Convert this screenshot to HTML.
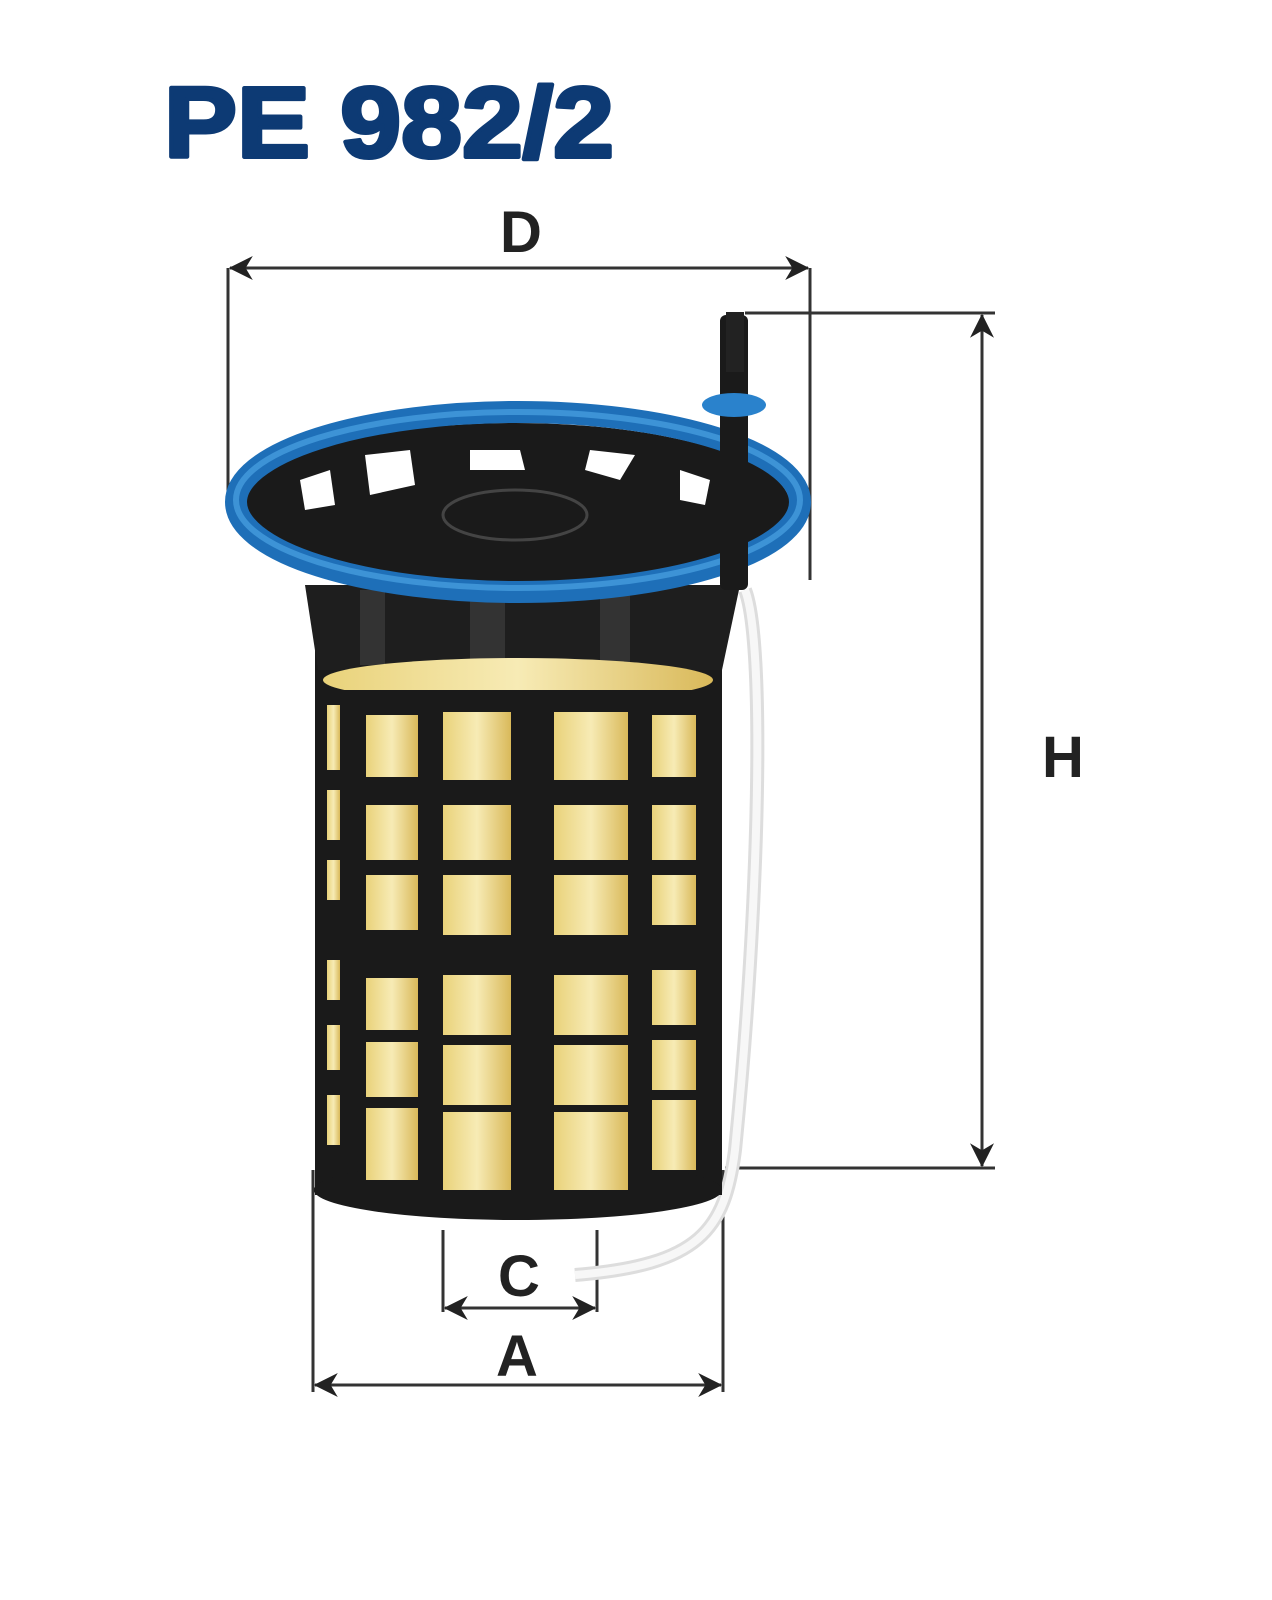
<!DOCTYPE html>
<html><head><meta charset="utf-8"><style>
body{margin:0;background:#fff;width:1272px;height:1600px;overflow:hidden}
svg{display:block}
text{font-family:"Liberation Sans",Arial,sans-serif;font-weight:bold}
</style></head><body>
<svg width="1272" height="1600" viewBox="0 0 1272 1600" xmlns="http://www.w3.org/2000/svg">
<defs>
<marker id="ar" viewBox="0 0 20 20" refX="19" refY="10" markerWidth="24" markerHeight="24" markerUnits="userSpaceOnUse" orient="auto-start-reverse"><path d="M0,0 L20,10 L0,20 L6,10 Z" fill="#222"/></marker>
<linearGradient id="yl" x1="0" x2="1"><stop offset="0" stop-color="#e9d27a"/><stop offset=".5" stop-color="#f7ebb5"/><stop offset="1" stop-color="#d9b95a"/></linearGradient>
</defs>
<text x="164" y="157" font-size="100" fill="#0d3a74" stroke="#0d3a74" stroke-width="4" stroke-linejoin="round" textLength="450" lengthAdjust="spacingAndGlyphs">PE 982/2</text>
<text x="500" y="252" font-size="58" fill="#222">D</text>
<g stroke="#333" stroke-width="3" fill="none">
<line x1="228" y1="268" x2="228" y2="500"/><line x1="810" y1="268" x2="810" y2="580"/>
<line x1="230" y1="268" x2="808" y2="268" marker-start="url(#ar)" marker-end="url(#ar)"/>
<line x1="745" y1="313" x2="995" y2="313"/><line x1="725" y1="1168" x2="995" y2="1168"/>
<line x1="982" y1="315" x2="982" y2="1166" marker-start="url(#ar)" marker-end="url(#ar)"/>
<line x1="443" y1="1230" x2="443" y2="1312"/><line x1="597" y1="1230" x2="597" y2="1312"/>
<line x1="445" y1="1308" x2="595" y2="1308" marker-start="url(#ar)" marker-end="url(#ar)"/>
<line x1="313" y1="1170" x2="313" y2="1392"/><line x1="723" y1="1170" x2="723" y2="1392"/>
<line x1="315" y1="1385" x2="721" y2="1385" marker-start="url(#ar)" marker-end="url(#ar)"/>
</g>
<text x="1042" y="777" font-size="58" fill="#222">H</text>
<text x="498" y="1296" font-size="58" fill="#222">C</text>
<text x="496" y="1376" font-size="58" fill="#222">A</text>
<path d="M745,590 C765,640 760,900 735,1150 C725,1230 700,1265 575,1275" stroke="#ddd" stroke-width="14" fill="none"/>
<path d="M745,590 C765,640 760,900 735,1150 C725,1230 700,1265 575,1275" stroke="#f7f7f7" stroke-width="8" fill="none"/>
<rect x="315" y="650" width="407" height="545" fill="#1a1a1a"/>
<ellipse cx="518" cy="1190" rx="204" ry="30" fill="#1a1a1a"/>
<path d="M305,585 L740,585 L722,670 L318,670 Z" fill="#1e1e1e"/>
<g fill="#333"><rect x="360" y="590" width="25" height="75"/><rect x="470" y="590" width="35" height="75"/><rect x="600" y="590" width="30" height="75"/></g>
<ellipse cx="518" cy="680" rx="195" ry="22" fill="url(#yl)"/>
<rect x="325" y="690" width="390" height="20" fill="#1a1a1a"/>
<g fill="url(#yl)">
<rect x="327" y="705" width="13" height="65"/><rect x="366" y="715" width="52" height="62"/><rect x="443" y="712" width="68" height="68"/><rect x="554" y="712" width="74" height="68"/><rect x="652" y="715" width="44" height="62"/>
<rect x="327" y="790" width="13" height="50"/><rect x="366" y="805" width="52" height="55"/><rect x="443" y="805" width="68" height="55"/><rect x="554" y="805" width="74" height="55"/><rect x="652" y="805" width="44" height="55"/>
<rect x="327" y="860" width="13" height="40"/><rect x="366" y="875" width="52" height="55"/><rect x="443" y="875" width="68" height="60"/><rect x="554" y="875" width="74" height="60"/><rect x="652" y="875" width="44" height="50"/>
<rect x="327" y="960" width="13" height="40"/><rect x="366" y="978" width="52" height="52"/><rect x="443" y="975" width="68" height="60"/><rect x="554" y="975" width="74" height="60"/><rect x="652" y="970" width="44" height="55"/>
<rect x="327" y="1025" width="13" height="45"/><rect x="366" y="1042" width="52" height="55"/><rect x="443" y="1045" width="68" height="60"/><rect x="554" y="1045" width="74" height="60"/><rect x="652" y="1040" width="44" height="50"/>
<rect x="327" y="1095" width="13" height="50"/><rect x="366" y="1108" width="52" height="72"/><rect x="443" y="1112" width="68" height="78"/><rect x="554" y="1112" width="74" height="78"/><rect x="652" y="1100" width="44" height="70"/>
</g>
<ellipse cx="515" cy="505" rx="275" ry="82" fill="#1a1a1a"/>
<g fill="#fff"><path d="M300,480 L330,470 L335,505 L305,510 Z"/><path d="M365,455 L410,450 L415,485 L370,495 Z"/><path d="M470,450 L520,450 L525,470 L470,470 Z"/><path d="M590,450 L635,455 L620,480 L585,470 Z"/><path d="M680,470 L710,480 L705,505 L680,500 Z"/></g>
<ellipse cx="515" cy="515" rx="72" ry="25" fill="none" stroke="#444" stroke-width="3"/>
<ellipse cx="518" cy="502" rx="282" ry="90" fill="none" stroke="#1e6fb8" stroke-width="22"/>
<ellipse cx="518" cy="500" rx="282" ry="88" fill="none" stroke="#3d93d6" stroke-width="6"/>
<rect x="720" y="315" width="28" height="275" rx="6" fill="#1a1a1a"/>
<rect x="726" y="312" width="18" height="60" fill="#222"/>
<ellipse cx="734" cy="405" rx="32" ry="12" fill="#2a82cc"/>
</svg>
</body></html>
